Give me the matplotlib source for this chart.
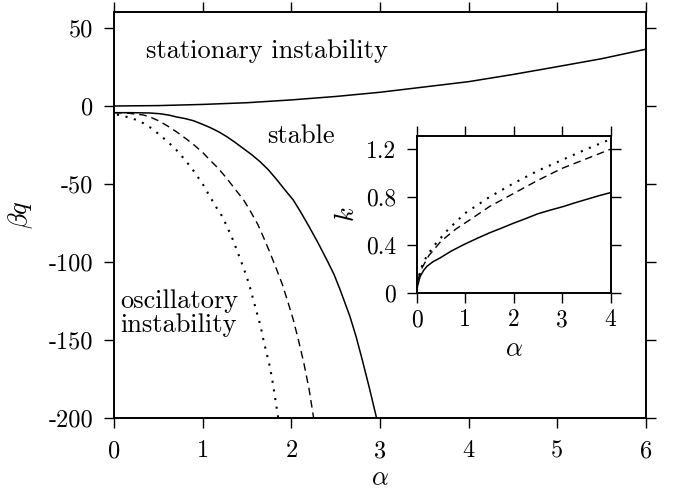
import matplotlib
matplotlib.use("Agg")
import matplotlib.pyplot as plt

plt.rcParams['font.family'] = 'serif'
plt.rcParams['font.serif'] = ['cmr10', 'DejaVu Serif']
plt.rcParams['mathtext.fontset'] = 'cm'

# main panel: upper boundary (stationary)
alpha_stat = [0, 0.5, 1, 1.5, 2, 2.5, 3, 3.5, 4, 4.5, 5, 5.5, 6]
bq_stat = [0, 0.25, 1, 2.1, 3.9, 6.1, 8.8, 12.2, 15.6, 20.2, 25.2, 30.3, 36.4]

# lower boundaries (oscillatory), three cases
alpha_solid = [0, 0.2, 0.4, 0.52, 0.62, 0.7, 0.8, 0.89, 0.98, 1.08, 1.18, 1.27, 1.36, 1.45, 1.55,
               1.645, 1.74, 1.83, 1.92, 2.02, 2.11, 2.2, 2.3, 2.4, 2.48, 2.55, 2.66, 2.73, 2.8, 2.88, 2.96]
bq_solid = [-4.3, -4.3, -4.5, -5, -5.9, -7, -8.1, -9.4, -11.4, -13.8, -16.6, -19.7, -23.2, -27, -31.2,
            -35.7, -41, -47, -53.4, -60.3, -68.6, -77.5, -87.8, -98.8, -108, -118, -135, -148, -163, -181, -200]

alpha_dash = [0, 0.15, 0.33, 0.42, 0.5, 0.6, 0.7, 0.8, 0.9, 1.0, 1.08, 1.18, 1.27, 1.36, 1.46, 1.54,
              1.62, 1.69, 1.76, 1.83, 1.9, 1.96, 2.02, 2.08, 2.14, 2.2, 2.25]
bq_dash = [-4.3, -4.6, -5.8, -7.5, -9.5, -12.8, -16.5, -20.6, -25, -30, -34.7, -40.4, -46.5, -53.1, -60.3, -67.9,
           -76, -85, -94.5, -104.5, -115, -125.8, -137, -150.5, -165, -182, -200]

alpha_dot = [0.03, 0.2, 0.33, 0.42, 0.5, 0.6, 0.7, 0.8, 0.9, 1.0, 1.08, 1.16, 1.22, 1.28, 1.34, 1.4,
             1.46, 1.52, 1.57, 1.61, 1.65, 1.69, 1.72, 1.76, 1.79, 1.82, 1.85]
bq_dot = [-5.5, -7.8, -11.1, -14.3, -18, -22.8, -28.2, -34.7, -42, -50.3, -58.2, -65.8, -71, -78.3, -86, -95,
          -104, -114, -124.5, -132.8, -141, -151.8, -158.7, -168.3, -178, -189, -200]

# inset: k vs alpha
ins_a_solid = [0, 0.02, 0.07, 0.14, 0.21, 0.34, 0.48, 0.7, 0.96, 1.25, 1.5, 1.75, 1.99, 2.25, 2.5, 2.75, 3.02, 3.25, 3.5, 3.75, 4.0]
ins_k_solid = [0, 0.06, 0.134, 0.185, 0.22, 0.26, 0.29, 0.345, 0.40, 0.455, 0.50, 0.54, 0.58, 0.62, 0.66, 0.69, 0.72,
               0.75, 0.78, 0.81, 0.837]
ins_a_dash = [0, 0.02, 0.1, 0.25, 0.5, 0.8, 1.1, 1.5, 2, 2.5, 3, 3.5, 4]
ins_k_dash = [0, 0.1, 0.2, 0.31, 0.43, 0.53, 0.61, 0.72, 0.83, 0.94, 1.04, 1.12, 1.2]
ins_a_dot = [0, 0.03, 0.14, 0.34, 0.65, 1, 1.5, 2, 2.5, 3, 3.5, 4]
ins_k_dot = [0, 0.12, 0.26, 0.385, 0.53, 0.665, 0.8, 0.915, 1.02, 1.11, 1.2, 1.284]

xticks = [0, 1, 2, 3, 4, 5, 6]
yticks = [50, 0, -50, -100, -150, -200]
ytick_labels = ['50', '0', '-50', '-100', '-150', '-200']
ins_xticks = [0, 1, 2, 3, 4]
ins_yticks = [0, 0.4, 0.8, 1.2]
ins_ytick_labels = ['0', '0.4', '0.8', '1.2']

dotted = (0, (1, 3.2))
dashed = (0, (5.5, 3.5))

fig = plt.figure(figsize=(6.9, 4.96), dpi=100)
ax = fig.add_axes([0.1657, 0.1579, 0.7701, 0.8179])

ax.plot(alpha_stat, bq_stat, 'k-', lw=1.1)
ax.plot(alpha_solid, bq_solid, 'k-', lw=1.1)
ax.plot(alpha_dash, bq_dash, color='k', ls=dashed, lw=1.0)
ax.plot(alpha_dot, bq_dot, color='k', ls=dotted, lw=1.5)

ax.set_xlim(0, 6)
ax.set_ylim(-200, 60.3)
ax.set_xticks(xticks, [str(t) for t in xticks])
ax.set_yticks(yticks, ytick_labels)
ax.tick_params(direction='out', length=7, width=1.0, labelsize=17.5,
               top=True, right=True)
ax.tick_params(axis='x', pad=9)
ax.tick_params(axis='y', pad=8)
for s in ax.spines.values():
    s.set_linewidth(1.4)
ax.set_xlabel(r'$\alpha$', fontsize=19, labelpad=3)
ax.set_ylabel(r'$\beta q$', fontsize=19, labelpad=10)

ax.text(1.72, 35.5, 'stationary instability', fontsize=19, ha='center', va='center')
ax.text(2.11, -19.5, 'stable', fontsize=19, ha='center', va='center')
ax.text(0.07, -133, 'oscillatory\ninstability', fontsize=19, ha='left', va='center',
        multialignment='left', linespacing=1.0)

ins = fig.add_axes([0.6039, 0.4099, 0.2812, 0.3159])
ins.plot(ins_a_solid, ins_k_solid, 'k-', lw=1.1)
ins.plot(ins_a_dash, ins_k_dash, color='k', ls=dashed, lw=1.0)
ins.plot(ins_a_dot, ins_k_dot, color='k', ls=dotted, lw=1.5)
ins.set_xlim(0, 4)
ins.set_ylim(0, 1.31)
ins.set_xticks(ins_xticks, [str(t) for t in ins_xticks])
ins.set_yticks(ins_yticks, ins_ytick_labels)
ins.tick_params(direction='out', length=7, width=1.0, labelsize=17,
                top=True, right=True)
ins.tick_params(axis='x', pad=5)
ins.tick_params(axis='y', pad=8)
for s in ins.spines.values():
    s.set_linewidth(1.4)
ins.set_xlabel(r'$\alpha$', fontsize=19, labelpad=4)
ins.set_ylabel(r'$k$', fontsize=19, labelpad=5)

fig.savefig('out.png', dpi=100)
